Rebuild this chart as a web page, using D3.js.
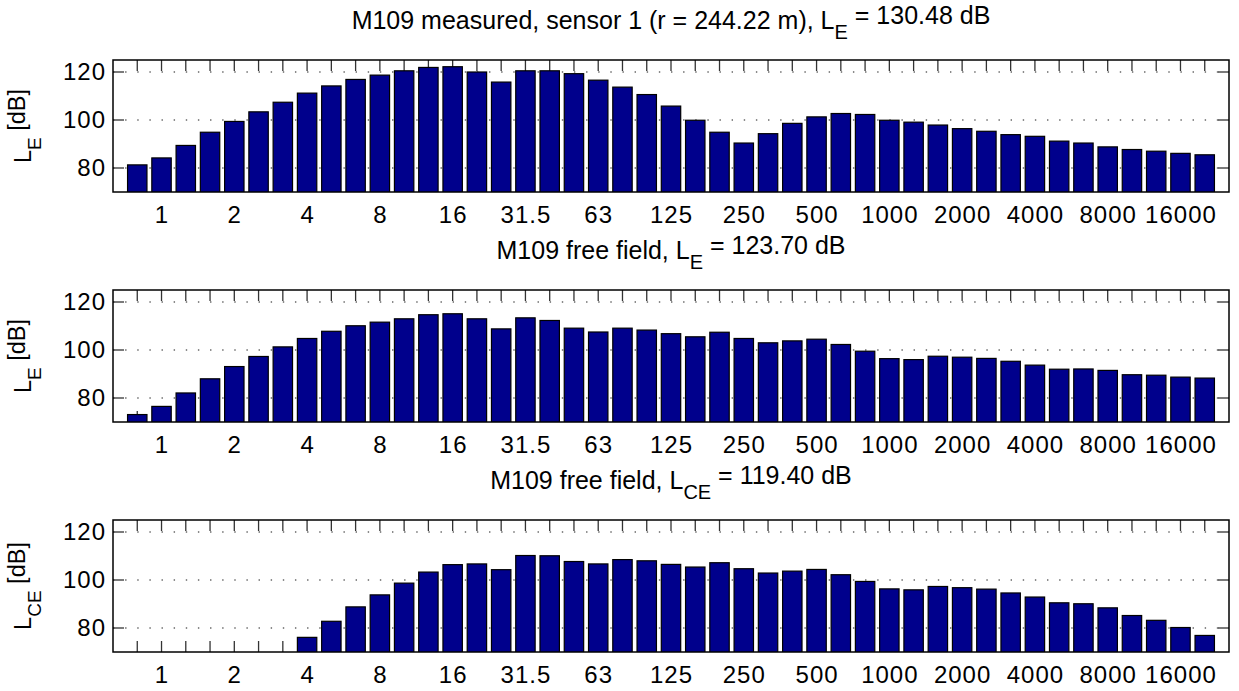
<!DOCTYPE html>
<html>
<head>
<meta charset="utf-8">
<script src="https://cdn.jsdelivr.net/npm/d3@7"></script>
<style>
  body { margin: 0; background: #fff; }
  text { font-family: "Liberation Sans", Arial, Helvetica, sans-serif; fill: #000; }
</style>
</head>
<body>
<svg id="chart" width="1239" height="691"></svg>
<script>
// One-third octave band centre frequencies [Hz]
const bands = ["0.8","1","1.25","1.6","2","2.5","3.15","4","5","6.3","8","10","12.5","16","20",
  "25","31.5","40","50","63","80","100","125","160","200","250","315","400","500","630","800",
  "1000","1250","1600","2000","2500","3150","4000","5000","6300","8000","10000","12500","16000","20000"];

// Labelled bands on the frequency axis
const tickLabels = ["1","2","4","8","16","31.5","63","125","250","500","1000","2000","4000","8000","16000"];

// Sound exposure level per band [dB]
const measuredLE = [81.3,84.2,89.4,94.9,99.4,103.4,107.4,111.2,114.2,116.9,118.7,120.5,121.9,122.2,120.0,
  115.8,120.5,120.5,119.3,116.6,113.7,110.6,105.8,99.9,94.9,90.4,94.3,98.6,101.3,102.7,102.3,
  99.9,99.1,97.9,96.4,95.3,93.9,93.2,91.2,90.4,88.8,87.7,87.0,86.1,85.5];

const freeFieldLE = [73.1,76.5,82.1,88.0,93.1,97.3,101.3,104.8,107.8,110.1,111.6,113.0,114.7,115.1,113.0,
  108.8,113.4,112.3,109.1,107.5,109.1,108.3,106.8,105.5,107.4,104.8,103.0,103.8,104.5,102.3,99.5,
  96.4,96.0,97.4,97.0,96.5,95.3,93.7,92.0,92.1,91.5,89.7,89.5,88.7,88.3];

// C-weighted; the lowest bands fall below the plotted range
const freeFieldLCE = [null,null,null,null,null,null,null,76.1,82.8,88.8,93.8,98.7,103.3,106.4,106.7,
  104.3,110.2,110.1,107.7,106.7,108.5,108.0,106.5,105.4,107.2,104.7,102.9,103.7,104.4,102.2,99.4,
  96.3,95.9,97.3,96.8,96.2,94.6,92.9,90.5,90.1,88.4,85.2,83.2,80.2,76.9];

const yTicks = [80, 100, 120];
const yDomain = [70, 125];

const panels = [
  { top: 60,  pre: "M109 measured, sensor 1 (r = 244.22 m), L", sub: "E",  post: " = 130.48 dB", ysub: "E",  values: measuredLE },
  { top: 290, pre: "M109 free field, L", sub: "E",  post: " = 123.70 dB", ysub: "E",  values: freeFieldLE },
  { top: 520, pre: "M109 free field, L", sub: "CE", post: " = 119.40 dB", ysub: "CE", values: freeFieldLCE }
];

const svg = d3.select("#chart");
const left = 113, right = 1229, height = 132;
const barColor = "#00008c";

const x = d3.scaleLinear().domain([0, bands.length + 1]).range([left, right]);
const barW = x(0.8) - x(0);

// index of each band, 1-based as on the axis
const bandPos = bands.map((b, i) => i + 1);
const labelPos = tickLabels.map(t => ({ pos: bands.indexOf(t) + 1, label: t }));

panels.forEach((p, k) => {
  const y = d3.scaleLinear().domain(yDomain).range([p.top + height, p.top]);
  const g = svg.append("g");

  const clipId = "clip" + k;
  svg.append("clipPath").attr("id", clipId)
    .append("rect").attr("x", left).attr("y", p.top).attr("width", right - left).attr("height", height);

  // dotted horizontal grid
  g.selectAll(".grid").data(yTicks).join("line")
    .attr("x1", left).attr("x2", right)
    .attr("y1", d => y(d)).attr("y2", d => y(d))
    .attr("stroke", "#666").attr("stroke-width", 1.3)
    .attr("stroke-dasharray", "1.4,10.73");

  // inward tick marks: frequency axis (top and bottom)
  const tl = 11;
  g.selectAll(".xt-top").data(bandPos).join("line")
    .attr("x1", d => x(d)).attr("x2", d => x(d))
    .attr("y1", p.top).attr("y2", p.top + tl)
    .attr("stroke", "#333").attr("stroke-width", 1.3);
  g.selectAll(".xt-bot").data(bandPos).join("line")
    .attr("x1", d => x(d)).attr("x2", d => x(d))
    .attr("y1", p.top + height).attr("y2", p.top + height - tl)
    .attr("stroke", "#333").attr("stroke-width", 1.3);
  // level axis ticks, left and right
  g.selectAll(".yt-l").data(yTicks).join("line")
    .attr("x1", left).attr("x2", left + tl)
    .attr("y1", d => y(d)).attr("y2", d => y(d))
    .attr("stroke", "#333").attr("stroke-width", 1.3);
  g.selectAll(".yt-r").data(yTicks).join("line")
    .attr("x1", right).attr("x2", right - tl)
    .attr("y1", d => y(d)).attr("y2", d => y(d))
    .attr("stroke", "#333").attr("stroke-width", 1.3);

  // bars
  g.append("g").attr("clip-path", `url(#${clipId})`)
    .selectAll("rect").data(p.values.map((v, i) => ({ v, i })).filter(d => d.v != null))
    .join("rect")
    .attr("x", d => x(d.i + 1) - barW / 2)
    .attr("width", barW)
    .attr("y", d => y(d.v))
    .attr("height", d => y(yDomain[0]) - y(d.v) + 2)
    .attr("fill", barColor)
    .attr("stroke", "#000").attr("stroke-width", 1.2);

  // axes box
  g.append("rect")
    .attr("x", left).attr("y", p.top).attr("width", right - left).attr("height", height)
    .attr("fill", "none").attr("stroke", "#000").attr("stroke-width", 1.5);

  // y tick labels
  g.selectAll(".yl").data(yTicks).join("text")
    .attr("x", left - 7).attr("y", d => y(d))
    .attr("dy", "0.35em")
    .attr("text-anchor", "end")
    .style("font-size", "24px").style("letter-spacing", "1px")
    .text(d => d);

  // x tick labels
  g.selectAll(".xl").data(labelPos).join("text")
    .attr("x", d => x(d.pos) + 0.5).attr("y", p.top + height + 31)
    .attr("text-anchor", "middle")
    .style("font-size", "24px").style("letter-spacing", "1px")
    .text(d => d.label);

  // panel title with subscript
  const t = g.append("text")
    .attr("x", (left + right) / 2).attr("y", p.top - 31)
    .attr("text-anchor", "middle")
    .style("font-size", "25px");
  t.append("tspan").text(p.pre);
  t.append("tspan").attr("dy", "0.5em").style("font-size", "20px").text(p.sub);
  t.append("tspan").attr("dy", "-0.6em").text(p.post);

  // y axis label
  const yl = g.append("text")
    .attr("transform", `translate(31,${p.top + height / 2}) rotate(-90)`)
    .attr("text-anchor", "middle")
    .style("font-size", "23.5px");
  yl.append("tspan").text("L");
  yl.append("tspan").attr("dy", "0.55em").style("font-size", "19px").text(p.ysub);
  yl.append("tspan").attr("dy", "-0.68em").text(" [dB]");
});
</script>
</body>
</html>
